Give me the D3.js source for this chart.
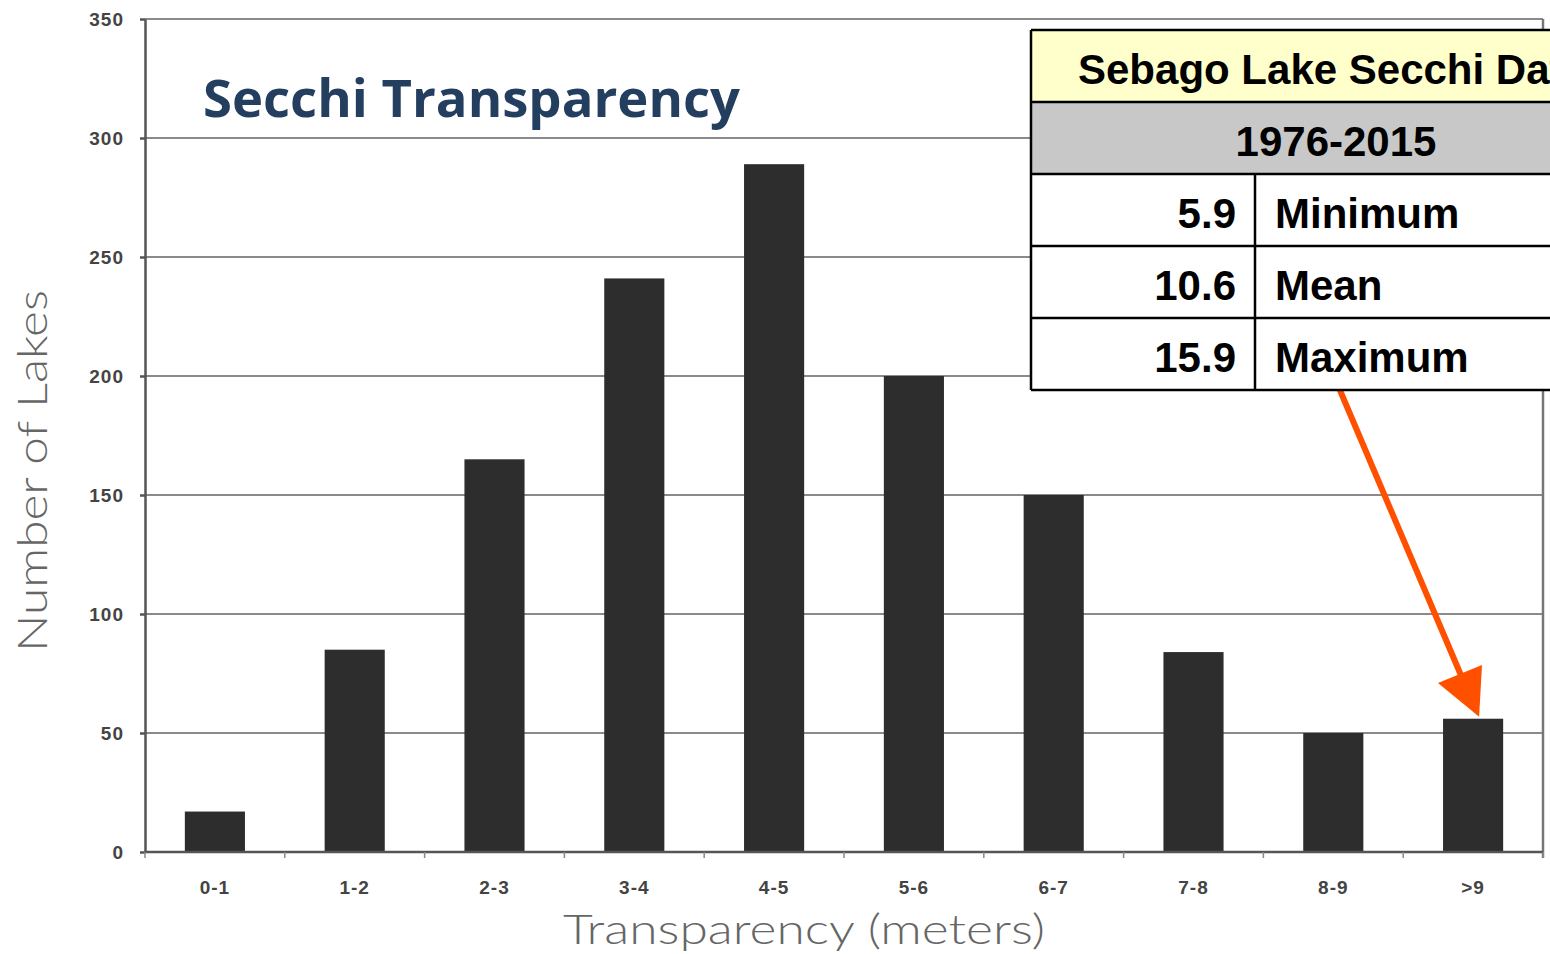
<!DOCTYPE html>
<html>
<head>
	<meta charset="utf-8">
	<title>Secchi Transparency</title>
	<script src="https://cdn.jsdelivr.net/npm/d3@7"></script>
	<style>
	html, body {margin: 0; background: #fff; overflow: hidden}
	.grid line {stroke: #8a8a8a; stroke-width: 2px}
	.axis path, .axis line {stroke: #555; stroke-width: 2.5px}
	.axis text {font-family: "Liberation Sans", Arial, sans-serif; font-weight: bold; fill: #444; font-size: 19px; letter-spacing: 1px}
	.cell {font-family: "Liberation Sans", Arial, sans-serif; font-weight: bold; font-size: 42px; fill: #000}
	</style>
</head>
<body>
<script>
	var width = 1550, height = 954;
	var margin = {top: 19, right: 7, bottom: 102, left: 145};

	// chart data
	var categories = ["0-1", "1-2", "2-3", "3-4", "4-5", "5-6", "6-7", "7-8", "8-9", ">9"];
	var lakeCounts = [17, 85, 165, 241, 289, 200, 150, 84, 50, 56];
	var yTicks = [0, 50, 100, 150, 200, 250, 300, 350];

	// table on the right
	var tableTitle = "Sebago Lake Secchi Data";
	var tablePeriod = "1976-2015";
	var statValues = ["5.9", "10.6", "15.9"];
	var statNames = ["Minimum", "Mean", "Maximum"];

	var svg = d3.select("body").append("svg")
		.attr("width", width)
		.attr("height", height);

	var plotW = width - margin.left - margin.right;
	var plotH = height - margin.top - margin.bottom;

	var x = d3.scaleBand()
		.domain(categories)
		.range([margin.left, margin.left + plotW])
		.paddingInner(0.57)
		.paddingOuter(0.285);

	var y = d3.scaleLinear()
		.domain([0, 350])
		.range([margin.top + plotH, margin.top]);

	// gridlines
	svg.append("g")
		.attr("class", "grid")
		.selectAll("line")
		.data(yTicks.slice(1))
		.enter().append("line")
		.attr("x1", margin.left)
		.attr("x2", margin.left + plotW)
		.attr("y1", function(d){ return y(d); })
		.attr("y2", function(d){ return y(d); });

	// right border
	svg.append("line")
		.attr("x1", margin.left + plotW)
		.attr("x2", margin.left + plotW)
		.attr("y1", y(350))
		.attr("y2", y(0) + 6)
		.attr("stroke", "#777")
		.attr("stroke-width", 2.5);

	// bars
	svg.append("g")
		.selectAll("rect")
		.data(lakeCounts)
		.enter().append("rect")
		.attr("x", function(d, i){ return x(categories[i]); })
		.attr("width", x.bandwidth())
		.attr("y", function(d){ return y(d); })
		.attr("height", function(d){ return y(0) - y(d); })
		.attr("fill", "#2d2d2d");

	// y axis
	var yAxis = svg.append("g")
		.attr("class", "axis")
		.attr("transform", "translate(" + margin.left + ",0)")
		.call(d3.axisLeft(y).tickValues(yTicks).tickSize(5).tickPadding(16).tickSizeOuter(0));

	// x axis, ticks sit between the categories
	var step = x.step();
	var xAxis = svg.append("g")
		.attr("class", "axis")
		.attr("transform", "translate(0," + y(0) + ")");
	xAxis.append("line")
		.attr("x1", margin.left)
		.attr("x2", margin.left + plotW);
	xAxis.selectAll(".tk")
		.data(d3.range(categories.length + 1))
		.enter().append("line")
		.attr("class", "tk")
		.attr("x1", function(i){ return margin.left + i * step; })
		.attr("x2", function(i){ return margin.left + i * step; })
		.attr("y1", 0)
		.attr("y2", 6)
		.style("stroke-width", 1.5)
		.style("stroke", "#888");
	xAxis.selectAll("text")
		.data(categories)
		.enter().append("text")
		.attr("x", function(d){ return x(d) + x.bandwidth() / 2; })
		.attr("y", 42)
		.attr("text-anchor", "middle")
		.text(function(d){ return d; });

	// axis titles
	svg.append("text")
		.attr("x", 804)
		.attr("y", 944)
		.attr("text-anchor", "middle")
		.attr("font-family", "Lato, 'DejaVu Sans', sans-serif")
		.attr("font-weight", 300)
		.attr("font-size", 42)
		.attr("fill", "#666")
		.attr("textLength", 482)
		.attr("lengthAdjust", "spacingAndGlyphs")
		.text("Transparency (meters)");

	svg.append("text")
		.attr("transform", "translate(47,471) rotate(-90)")
		.attr("text-anchor", "middle")
		.attr("font-family", "Lato, 'DejaVu Sans', sans-serif")
		.attr("font-weight", 300)
		.attr("font-size", 42)
		.attr("fill", "#666")
		.attr("textLength", 362)
		.attr("lengthAdjust", "spacingAndGlyphs")
		.text("Number of Lakes");

	// chart title
	svg.append("text")
		.attr("x", 203)
		.attr("y", 117)
		.attr("font-family", "'Open Sans', sans-serif")
		.attr("font-weight", "bold")
		.attr("font-size", 52)
		.attr("fill", "#243e5f")
		.attr("textLength", 537)
		.attr("lengthAdjust", "spacingAndGlyphs")
		.text("Secchi Transparency");

	// arrow pointing to the >9 bar
	var tipX = x(">9") + x.bandwidth() / 2 + 6, tipY = y(lakeCounts[9]) - 2;
	svg.append("line")
		.attr("x1", 1339)
		.attr("y1", 388)
		.attr("x2", 1463)
		.attr("y2", 680)
		.attr("stroke", "#ff5000")
		.attr("stroke-width", 6);
	svg.append("path")
		.attr("d", "M" + tipX + "," + tipY + "L1438,683L1482,665Z")
		.attr("fill", "#ff5000");

	// stats table
	var tbl = svg.append("g");
	var tx = 1031, tRight = 1641, divX = 1255;
	var rowTops = [30, 102, 174, 246, 318, 390];
	tbl.append("rect").attr("x", tx).attr("y", rowTops[0]).attr("width", tRight - tx).attr("height", 72).attr("fill", "#ffffcc");
	tbl.append("rect").attr("x", tx).attr("y", rowTops[1]).attr("width", tRight - tx).attr("height", 72).attr("fill", "#c8c8c8");
	tbl.append("rect").attr("x", tx).attr("y", rowTops[2]).attr("width", tRight - tx).attr("height", 216).attr("fill", "#fff");

	tbl.selectAll(".hl")
		.data(rowTops)
		.enter().append("line")
		.attr("x1", tx).attr("x2", tRight)
		.attr("y1", function(d){ return d; })
		.attr("y2", function(d){ return d; })
		.attr("stroke", "#000").attr("stroke-width", 2.5);
	tbl.append("line").attr("x1", tx).attr("x2", tx).attr("y1", rowTops[0]).attr("y2", rowTops[5]).attr("stroke", "#000").attr("stroke-width", 2.5);
	tbl.append("line").attr("x1", divX).attr("x2", divX).attr("y1", rowTops[2]).attr("y2", rowTops[5]).attr("stroke", "#000").attr("stroke-width", 2.5);

	tbl.append("text").attr("class", "cell").attr("x", 1078).attr("y", 84).text(tableTitle);
	tbl.append("text").attr("class", "cell").attr("x", 1336).attr("y", 156).attr("text-anchor", "middle").text(tablePeriod);
	statValues.forEach(function(v, i){
		tbl.append("text").attr("class", "cell").attr("x", 1236).attr("y", rowTops[2 + i] + 54).attr("text-anchor", "end").text(v);
		tbl.append("text").attr("class", "cell").attr("x", 1275).attr("y", rowTops[2 + i] + 54).text(statNames[i]);
	});
</script>
</body>
</html>
